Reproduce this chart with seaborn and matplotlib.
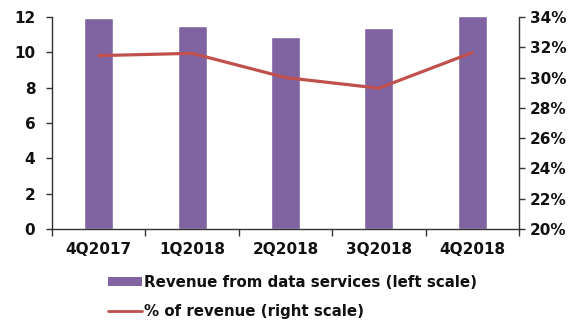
import matplotlib
matplotlib.use("Agg")
import matplotlib.pyplot as plt
import seaborn as sns
import pandas as pd
import numpy as np
from matplotlib.patches import Patch
from matplotlib.lines import Line2D
from matplotlib.ticker import FuncFormatter

categories = ["4Q2017", "1Q2018", "2Q2018", "3Q2018", "4Q2018"]
revenue = [11.97, 11.5, 10.88, 11.4, 12.05]
pct_revenue = [31.45, 31.6, 30.0, 29.3, 31.65]
left_ticks = [0, 2, 4, 6, 8, 10, 12]
right_ticks = [20, 22, 24, 26, 28, 30, 32, 34]

bar_color = "#8064A2"
line_color = "#C0504D"

sns.set_style("white")
plt.rcParams["font.family"] = ["DejaVu Sans"]
plt.rcParams["font.weight"] = "bold"

fig = plt.figure(figsize=(5.74, 3.25), dpi=100)
ax = fig.add_axes([52/574, 1 - 229/325, (519-52)/574, (229-17)/325])

df = pd.DataFrame({"cat": categories, "rev": revenue, "pct": pct_revenue})
sns.barplot(data=df, x="cat", y="rev", color=bar_color, saturation=1,
            width=0.31, ax=ax, order=categories)
ax.set_xlim(-0.5, 4.5)
ax.set_ylim(0, 12)
ax.set_yticks(left_ticks)
ax.set_xlabel("")
ax.set_ylabel("")

ax2 = ax.twinx()
df["x"] = np.arange(len(categories))
sns.lineplot(data=df, x="x", y="pct", color=line_color, linewidth=2.3, ax=ax2)
ax2.set_ylim(20, 34)
ax2.set_yticks(right_ticks)
ax2.yaxis.set_major_formatter(FuncFormatter(lambda v, p: f"{v:.0f}%"))
ax2.set_xlim(-0.5, 4.5)
ax2.set_ylabel("")
ax2.set_xlabel("")

for a in (ax, ax2):
    for s in a.spines.values():
        s.set_visible(False)
    a.grid(False)

ax.spines["left"].set_visible(True)
ax.spines["bottom"].set_visible(True)
ax2.spines["right"].set_visible(True)
for s in (ax.spines["left"], ax.spines["bottom"], ax2.spines["right"]):
    s.set_color("#333333")
    s.set_linewidth(1.0)

ax.set_xticks(range(len(categories)))
ax.set_xticklabels(categories)
ax.set_xticks(np.arange(-0.5, 5.0, 1.0), minor=True)
ax.tick_params(axis="x", which="major", length=0, pad=9, labelsize=11)
ax.tick_params(axis="x", which="minor", length=5, width=1, color="#333333", direction="out", bottom=True)
ax.tick_params(axis="y", which="major", left=True, length=4, width=1, color="#333333",
               direction="out", labelsize=11, pad=8)
ax2.tick_params(axis="y", which="major", right=True, length=4, width=1, color="#333333",
                direction="out", labelsize=11, pad=4)
for lbl in ax.get_xticklabels() + ax.get_yticklabels() + ax2.get_yticklabels():
    lbl.set_fontweight("bold")
    lbl.set_color("#111111")

handles = [Patch(facecolor=bar_color, edgecolor="none"),
           Line2D([0], [0], color=line_color, linewidth=2)]
labels = ["Revenue from data services (left scale)", "% of revenue (right scale)"]
leg = fig.legend(handles, labels, loc="upper left", bbox_to_anchor=(108/574, 1 - 275/325),
                 frameon=False, prop={"weight": "bold", "size": 10.8},
                 handlelength=2.27, handleheight=0.5, handletextpad=0.15, labelspacing=0.93,
                 borderaxespad=0, borderpad=0)
for t in leg.get_texts():
    t.set_color("#111111")

fig.savefig("out.png", dpi=100)
